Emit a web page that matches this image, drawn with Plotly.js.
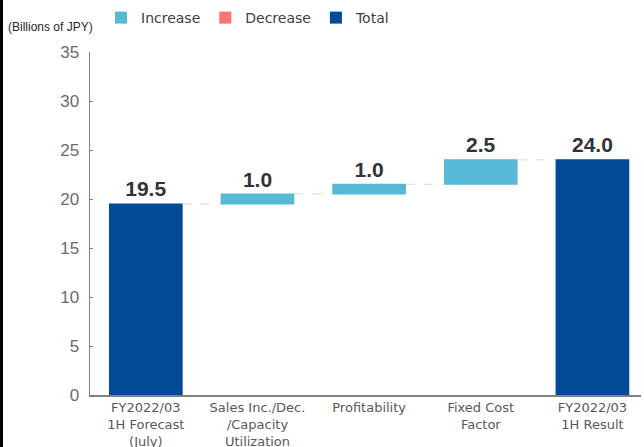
<!DOCTYPE html>
<html><head><meta charset="utf-8">
<script src="https://cdn.plot.ly/plotly-3.0.1.min.js"></script>
<style>
body{margin:0;padding:0;background:#fff;}
#wrap{position:relative;width:644px;height:447px;overflow:hidden;}
#chart{position:absolute;left:0;top:0;width:644px;height:447px;}
#bd{position:absolute;left:0;top:0;width:3px;height:447px;background:#000;}
</style></head>
<body><div id="wrap"><div id="chart"></div><div id="bd"></div></div>
<script>
const categories = ["FY2022/03<br>1H Forecast<br>(July)", "Sales Inc./Dec.<br>/Capacity<br>Utilization", "Profitability", "Fixed Cost<br>Factor", "FY2022/03<br>1H Result"];
const measures = ["absolute", "relative", "relative", "relative", "total"];
const values = [19.5, 1.0, 1.0, 2.5, 0];
const labels = ["19.5", "1.0", "1.0", "2.5", "24.0"];
const yTicks = [0, 5, 10, 15, 20, 25, 30, 35];

const cInc = "#56BAD6", cDec = "#FF7276", cTot = "#004A98";

const traces = [
  {
    type: "waterfall", x: categories, y: values, measure: measures,
    text: labels, textposition: "outside", cliponaxis: false,
    textfont: {family: "Liberation Sans, Arial, sans-serif", size: 21, color: "#333333", weight: "bold"},
    increasing: {marker: {color: cInc}},
    decreasing: {marker: {color: cDec}},
    totals: {marker: {color: cTot}},
    connector: {line: {color: "#d9d9d9", width: 1, dash: "dash"}},
    width: 0.66, showlegend: false, hoverinfo: "skip"
  },
  {type: "bar", x: [categories[0]], y: [null], name: "Increase", marker: {color: cInc}},
  {type: "bar", x: [categories[0]], y: [null], name: "Decrease", marker: {color: cDec}},
  {type: "bar", x: [categories[0]], y: [null], name: "Total", marker: {color: cTot}}
];

const layout = {
  width: 644, height: 447,
  margin: {l: 90, r: 3, t: 52, b: 52, autoexpand: false},
  paper_bgcolor: "#fff", plot_bgcolor: "#fff",
  font: {family: "DejaVu Sans, sans-serif", color: "#595959"},
  barmode: "overlay",
  showlegend: true,
  legend: {orientation: "h", x: 0.02, xanchor: "left", y: 1 + 34/343, yanchor: "middle",
           font: {size: 14, color: "#404040"}, itemwidth: 30, traceorder: "normal"},
  xaxis: {
    type: "category", range: [-0.5, 4.435],
    showline: true, linecolor: "#808080", linewidth: 1.5,
    ticks: "", showgrid: false, zeroline: false,
    tickfont: {size: 13, color: "#595959"}, automargin: false
  },
  yaxis: {
    range: [0, 35], tickvals: yTicks, ticktext: yTicks.map(String),
    showline: true, linecolor: "#808080", linewidth: 1.5,
    ticks: "inside", ticklen: 3, tickcolor: "#808080", ticklabelstandoff: 6,
    showgrid: false, zeroline: false,
    tickfont: {family: "Liberation Sans, Arial, sans-serif", size: 17, color: "#6b6b6b"}, automargin: false
  },
  annotations: [{
    text: "(Billions of JPY)", xref: "paper", yref: "paper",
    x: -90/551, xanchor: "left", y: 1 + 25/343, yanchor: "middle",
    showarrow: false, xshift: 6, font: {family: "Liberation Sans, Arial, sans-serif", size: 12, color: "#262626"}
  }]
};
Plotly.newPlot("chart", traces, layout, {displayModeBar: false, staticPlot: true});
</script></body></html>
